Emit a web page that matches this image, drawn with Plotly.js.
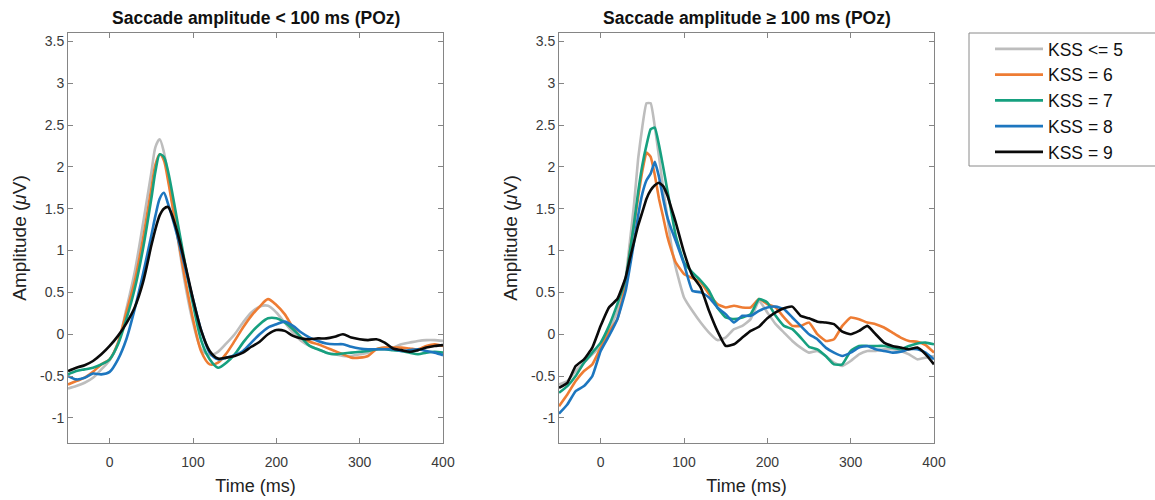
<!DOCTYPE html>
<html>
<head>
<meta charset="utf-8">
<script src="https://cdn.plot.ly/plotly-3.0.1.min.js"></script>
<style>html,body{margin:0;padding:0;background:#fff;}#chart{width:1155px;height:500px;}</style>
</head>
<body>
<div id="chart"></div>
<script>
// ---------- data ----------
const seriesNames = ['KSS <= 5', 'KSS = 6', 'KSS = 7', 'KSS = 8', 'KSS = 9'];
const seriesColors = ['#bdbdbd', '#ee7c33', '#16a07f', '#1d76bf', '#0a0a0a'];

const panelTitles = ['Saccade amplitude < 100 ms (POz)', 'Saccade amplitude \u2265 100 ms (POz)'];
const xTickVals = [0, 100, 200, 300, 400];
const yTickVals = [-1, -0.5, 0, 0.5, 1, 1.5, 2, 2.5, 3, 3.5];

// Left panel (amplitude < 100 ms)
const timeLeft = [-50,-40,-30,-20,-10,0,10,20,30,40,50,55,60,65,70,80,90,100,110,120,130,140,150,160,170,180,190,200,210,220,230,240,250,260,270,280,290,300,310,320,330,340,350,360,370,380,390,400];
const leftKSS5 = [-0.65,-0.62,-0.58,-0.52,-0.42,-0.31,-0.11,0.30,0.74,1.32,1.93,2.24,2.33,2.18,1.89,1.26,0.63,0.14,-0.18,-0.25,-0.21,-0.11,0.0,0.14,0.26,0.33,0.34,0.26,0.14,0.02,-0.08,-0.14,-0.18,-0.22,-0.24,-0.26,-0.26,-0.24,-0.22,-0.18,-0.16,-0.16,-0.12,-0.10,-0.08,-0.07,-0.07,-0.08];
const leftKSS6 = [-0.60,-0.56,-0.52,-0.45,-0.36,-0.30,-0.10,0.26,0.63,1.14,1.74,2.03,2.15,2.08,1.84,1.26,0.69,0.18,-0.21,-0.36,-0.34,-0.23,-0.08,0.08,0.22,0.33,0.42,0.35,0.24,0.08,-0.04,-0.09,-0.12,-0.16,-0.20,-0.24,-0.28,-0.28,-0.26,-0.18,-0.16,-0.16,-0.16,-0.17,-0.18,-0.14,-0.12,-0.14];
const leftKSS7 = [-0.48,-0.44,-0.42,-0.40,-0.36,-0.30,-0.12,0.18,0.54,1.02,1.62,1.95,2.15,2.12,1.95,1.42,0.87,0.36,-0.08,-0.30,-0.40,-0.34,-0.24,-0.10,0.02,0.12,0.19,0.19,0.14,0.06,-0.04,-0.14,-0.18,-0.22,-0.24,-0.23,-0.22,-0.21,-0.20,-0.18,-0.18,-0.19,-0.20,-0.22,-0.24,-0.22,-0.21,-0.22];
const leftKSS8 = [-0.50,-0.54,-0.52,-0.47,-0.48,-0.45,-0.30,-0.06,0.30,0.72,1.18,1.42,1.62,1.69,1.56,1.22,0.82,0.42,0.04,-0.22,-0.30,-0.28,-0.25,-0.20,-0.10,0.0,0.08,0.12,0.15,0.10,0.02,-0.04,-0.08,-0.11,-0.12,-0.12,-0.15,-0.17,-0.18,-0.18,-0.18,-0.18,-0.20,-0.19,-0.18,-0.20,-0.22,-0.25];
const leftKSS9 = [-0.44,-0.40,-0.37,-0.32,-0.24,-0.14,-0.02,0.13,0.32,0.62,1.06,1.26,1.42,1.50,1.52,1.26,0.86,0.42,0.04,-0.20,-0.29,-0.28,-0.26,-0.22,-0.15,-0.09,0.0,0.05,0.04,-0.02,-0.05,-0.06,-0.05,-0.05,-0.03,0.0,-0.04,-0.06,-0.07,-0.06,-0.10,-0.17,-0.19,-0.21,-0.19,-0.16,-0.14,-0.13];

// Right panel (amplitude >= 100 ms)
const timeRight = [-50,-40,-30,-20,-10,0,10,20,30,35,40,45,50,55,60,65,70,75,80,85,90,100,110,120,130,140,150,160,170,180,190,200,210,220,230,240,250,260,270,280,290,300,310,320,330,340,350,360,370,380,390,400];
const rightKSS5 = [-0.60,-0.56,-0.44,-0.34,-0.24,-0.15,0.05,0.28,0.68,1.10,1.55,2.10,2.48,2.76,2.76,2.48,2.12,1.75,1.40,1.05,0.80,0.44,0.28,0.14,0.02,-0.07,-0.04,0.06,0.10,0.18,0.40,0.26,0.12,0.02,-0.08,-0.16,-0.22,-0.20,-0.26,-0.34,-0.38,-0.32,-0.24,-0.20,-0.20,-0.18,-0.18,-0.20,-0.24,-0.30,-0.28,-0.26];
const rightKSS6 = [-0.86,-0.72,-0.56,-0.44,-0.36,-0.16,0.03,0.18,0.60,0.98,1.30,1.64,1.95,2.17,2.12,1.90,1.62,1.40,1.17,1.00,0.86,0.72,0.67,0.62,0.48,0.36,0.32,0.34,0.32,0.32,0.42,0.36,0.32,0.20,0.10,0.10,0.14,0.0,-0.08,-0.06,0.10,0.20,0.18,0.14,0.12,0.08,0.02,-0.04,-0.08,-0.09,-0.13,-0.22];
const rightKSS7 = [-0.70,-0.62,-0.50,-0.34,-0.22,-0.10,0.10,0.36,0.66,0.98,1.32,1.70,2.02,2.26,2.45,2.47,2.26,2.00,1.72,1.45,1.18,0.86,0.74,0.64,0.52,0.32,0.20,0.18,0.20,0.24,0.42,0.38,0.22,0.10,0.06,-0.04,-0.15,-0.18,-0.26,-0.36,-0.36,-0.20,-0.14,-0.14,-0.14,-0.14,-0.16,-0.18,-0.14,-0.11,-0.10,-0.12];
const rightKSS8 = [-0.95,-0.84,-0.68,-0.62,-0.50,-0.20,-0.02,0.18,0.52,0.80,1.10,1.42,1.68,1.84,1.92,2.06,1.88,1.62,1.40,1.25,1.12,0.84,0.52,0.50,0.44,0.32,0.24,0.14,0.22,0.22,0.28,0.32,0.33,0.30,0.20,0.10,0.0,-0.06,-0.16,-0.22,-0.26,-0.22,-0.16,-0.14,-0.18,-0.20,-0.22,-0.21,-0.18,-0.18,-0.22,-0.30];
const rightKSS9 = [-0.64,-0.58,-0.38,-0.30,-0.16,0.10,0.32,0.42,0.68,0.90,1.10,1.30,1.46,1.62,1.72,1.78,1.81,1.77,1.66,1.50,1.34,0.98,0.70,0.56,0.28,0.04,-0.14,-0.12,-0.04,0.04,0.09,0.19,0.26,0.31,0.33,0.22,0.19,0.15,0.14,0.12,0.03,0.0,0.04,0.10,0.0,-0.10,-0.14,-0.16,-0.18,-0.16,-0.24,-0.36];

const leftSeries = [leftKSS5, leftKSS6, leftKSS7, leftKSS8, leftKSS9];
const rightSeries = [rightKSS5, rightKSS6, rightKSS7, rightKSS8, rightKSS9];

// ---------- traces ----------
const traces = [];
leftSeries.forEach((vals, i) => {
  traces.push({
    x: timeLeft, y: vals, type: 'scatter', mode: 'lines',
    name: seriesNames[i], showlegend: true,
    line: {color: seriesColors[i], width: 2.6, shape: 'spline', smoothing: 0.8},
    xaxis: 'x', yaxis: 'y', hoverinfo: 'skip'
  });
});
rightSeries.forEach((vals, i) => {
  traces.push({
    x: timeRight, y: vals, type: 'scatter', mode: 'lines',
    name: seriesNames[i], showlegend: false,
    line: {color: seriesColors[i], width: 2.6, shape: 'spline', smoothing: 0.4},
    xaxis: 'x2', yaxis: 'y2', hoverinfo: 'skip'
  });
});

// ---------- layout ----------
const W = 1155, H = 500;
const fontFam = 'Liberation Sans, Arial, Helvetica, sans-serif';
const axisLine = '#858585';
const tickCol = '#3a3a3a';
const yDom = [(H - 443) / H, (H - 33) / H];

function xAxis(domain, anchor) {
  return {
    domain: domain, anchor: anchor, range: [-50, 400],
    tickmode: 'array', tickvals: xTickVals, ticktext: xTickVals.map(String),
    ticks: 'inside', ticklen: 5, tickwidth: 1, tickcolor: axisLine,
    showline: true, linecolor: axisLine, linewidth: 1, mirror: 'ticks',
    showgrid: false, zeroline: false, ticklabelstandoff: 6,
    tickfont: {family: fontFam, size: 14, color: tickCol},
    title: {text: 'Time (ms)', font: {family: fontFam, size: 18, color: '#222'}, standoff: 10}
  };
}
function yAxis(anchor) {
  return {
    domain: yDom, anchor: anchor, range: [-1.3, 3.6],
    tickmode: 'array', tickvals: yTickVals, ticktext: yTickVals.map(String),
    ticks: 'inside', ticklen: 5, tickwidth: 1, tickcolor: axisLine,
    showline: true, linecolor: axisLine, linewidth: 1, mirror: 'ticks',
    showgrid: false, zeroline: false,
    tickfont: {family: fontFam, size: 14, color: tickCol},
    title: {text: 'Amplitude (<i>\u03bc</i>V)', font: {family: fontFam, size: 19, color: '#222'}, standoff: 8}
  };
}

const layout = {
  width: W, height: H,
  margin: {l: 0, r: 0, t: 0, b: 0},
  paper_bgcolor: '#ffffff', plot_bgcolor: '#ffffff',
  font: {family: fontFam, color: '#222'},
  xaxis: xAxis([68 / W, 443 / W], 'y'),
  yaxis: yAxis('x'),
  xaxis2: xAxis([559 / W, 934 / W], 'y2'),
  yaxis2: yAxis('x2'),
  showlegend: true,
  legend: {
    x: 990 / W, y: (H - 31) / H, xanchor: 'left', yanchor: 'top',
    borderwidth: 0, bgcolor: 'rgba(0,0,0,0)',
    font: {family: fontFam, size: 17.5, color: '#111'},
    traceorder: 'normal', itemwidth: 48
  },
  shapes: [{
    type: 'rect', xref: 'paper', yref: 'paper', layer: 'below',
    x0: 969 / W, x1: 1160 / W, y0: (H - 166) / H, y1: (H - 33) / H,
    line: {color: '#8a8a8a', width: 1}, fillcolor: '#ffffff'
  }],
  annotations: panelTitles.map((t, i) => ({
    text: '<b>' + t + '</b>', showarrow: false,
    xref: i === 0 ? 'x domain' : 'x2 domain', x: 0.5, xanchor: 'center',
    yref: 'paper', y: (H - 18) / H, yanchor: 'middle',
    font: {family: fontFam, size: 17.5, color: '#111'}
  }))
};

Plotly.newPlot('chart', traces, layout, {staticPlot: true, displayModeBar: false});
</script>
</body>
</html>
